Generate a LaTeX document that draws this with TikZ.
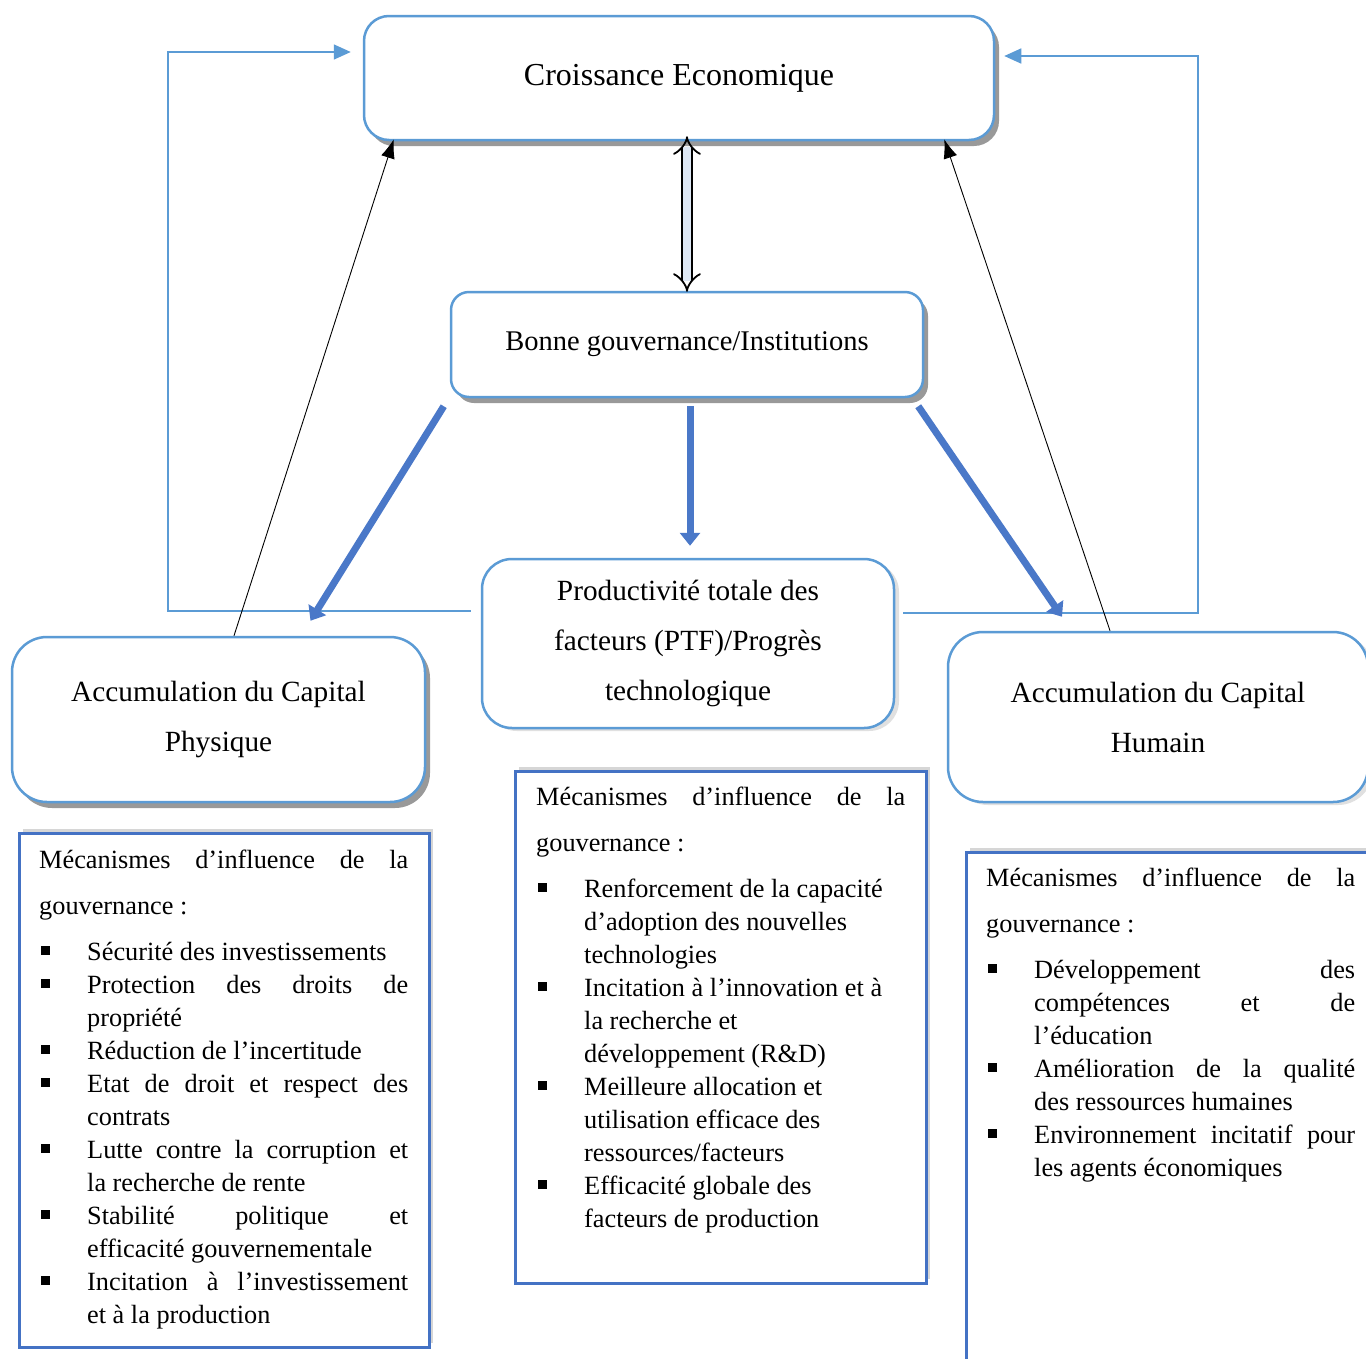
\documentclass[tikz,border=0pt]{standalone}
\usepackage{fontspec}
\setmainfont{Liberation Serif}
\usetikzlibrary{arrows.meta,shadows,calc}
\definecolor{bleuBord}{HTML}{5B9BD5}
\definecolor{bleuFonce}{HTML}{4472C4}
\definecolor{bleuFleche}{HTML}{4A78C8}
\definecolor{bleuPale}{HTML}{DEE8F5}

\newcommand{\Ligne}[1]{\makebox[\linewidth][s]{#1}}
\newcommand{\Entete}{{\fontsize{26.3}{46}\selectfont\noindent\Ligne{Mécanismes d’influence de la}\par\noindent gouvernance :\par}\vspace{13pt}}
\newenvironment{Puces}{\begin{list}{\raisebox{6pt}{\rule{8.5pt}{8.5pt}}}{\setlength{\leftmargin}{48pt}\setlength{\labelsep}{0pt}\setlength{\labelwidth}{48pt}\setlength{\itemsep}{0pt}\setlength{\parsep}{0pt}\setlength{\topsep}{0pt}\setlength{\partopsep}{0pt}\renewcommand{\makelabel}[1]{\hspace{2pt}##1\hfil}}}{\end{list}}

\begin{document}
\begin{tikzpicture}[x=1pt,y=-1pt]
    \tikzset{Boite/.style = {draw=bleuBord, line width=2.5pt, rounded corners=25pt, fill=white, align=center, font=\fontsize{29.3}{50}\selectfont}}
    \tikzset{Ombre/.style = {drop shadow={shadow xshift=5pt, shadow yshift=-6pt, fill=black!50, opacity=.8}}}
    \tikzset{OmbreLegere/.style = {drop shadow={shadow xshift=5pt, shadow yshift=-3pt, fill=black!30, opacity=.4}}}
    \tikzset{Cadre/.style = {draw=bleuFonce, line width=2.5pt, fill=white, anchor=north west, drop shadow={shadow xshift=4pt, shadow yshift=4pt, fill=black!40, opacity=.4}}}
    \tikzset{Texte/.style = {anchor=north west, inner sep=0pt, text width=369pt, align=justify, font=\fontsize{26.3}{33}\selectfont}}

    \tikzset{fleche/.style = {bleuFleche, line width=7pt, -{Triangle[length=13pt,width=20pt]}}}
    \tikzset{lien/.style = {black, line width=0.9pt, -{Latex[length=19pt,width=14pt]}}}
    \tikzset{retour/.style = {bleuBord, line width=1.6pt, -{Triangle[length=17pt,width=15pt]}}}
    \tikzset{bidir/.style = {black, line width=1.8pt, double=bleuPale, double distance=8pt, {Implies}-{Implies}}}

    \fill[white] (0,0) rectangle (1366,1358);
    \useasboundingbox (0,0) rectangle (1366,1358);

    \node[Boite, Ombre, minimum width=630pt, minimum height=124pt, font=\fontsize{32}{40}\selectfont] (croissance) at (679,78) {Croissance Economique};
    \node[Boite, Ombre, rounded corners=18pt, minimum width=472pt, minimum height=105pt, font=\fontsize{28.5}{34}\selectfont] (gouvernance) at (687,344.5) {Bonne gouvernance/Institutions};
    \node[Boite, OmbreLegere, rounded corners=30pt, minimum width=412pt, minimum height=169pt] (ptf) at (688,643.5) {Productivité totale des\\facteurs (PTF)/Progrès\\technologique};
    \node[Boite, Ombre, rounded corners=35pt, minimum width=413pt, minimum height=165pt] (physique) at (218.5,719.5) {Accumulation du Capital\\Physique};
    \node[Boite, OmbreLegere, rounded corners=35pt, minimum width=420pt, minimum height=170pt] (humain) at (1158,717) {Accumulation du Capital\\Humain};

    \node[Cadre, minimum width=410pt, minimum height=514pt] (cadreG) at (18,832) {};
    \node[Texte] (texteG) at (39,850) {\Entete
        \begin{Puces}
        \item Sécurité des investissements
        \item \Ligne{Protection des droits de}\\ propriété
        \item Réduction de l’incertitude
        \item \Ligne{Etat de droit et respect des}\\ contrats
        \item \Ligne{Lutte contre la corruption et}\\ la recherche de rente
        \item \Ligne{Stabilité politique et}\\ efficacité gouvernementale
        \item \Ligne{Incitation à l’investissement}\\ et à la production
        \end{Puces}};

    \node[Cadre, minimum width=411pt, minimum height=512pt] (cadreM) at (514,770) {};
    \node[Texte] (texteM) at (536,787) {\Entete
        \begin{Puces}
        \item Renforcement de la capacité\\ d’adoption des nouvelles\\ technologies
        \item Incitation à l’innovation et à\\ la recherche et\\ développement (R\&D)
        \item Meilleure allocation et\\ utilisation efficace des\\ ressources/facteurs
        \item Efficacité globale des\\ facteurs de production
        \end{Puces}};

    \node[Cadre, minimum width=430pt, minimum height=560pt] (cadreD) at (965,851) {};
    \node[Texte] (texteD) at (986,868) {\Entete
        \begin{Puces}
        \item \Ligne{Développement des}\\ \Ligne{compétences et de}\\ l’éducation
        \item \Ligne{Amélioration de la qualité}\\ des ressources humaines
        \item \Ligne{Environnement incitatif pour}\\ les agents économiques
        \end{Puces}};

    \draw[retour] ([shift={(-10,-32.5)}]ptf.west) -- ++(-303,0) |- ([shift={(-12,-26)}]croissance.west);
    \draw[retour] ([shift={(8,-30.5)}]ptf.east) -- ++(295,0) |- ([shift={(9,-22)}]croissance.east);

    \draw[bidir, shorten <=-5pt, shorten >=-1pt] (croissance.south -| gouvernance.north) -- (gouvernance.north);

    \draw[fleche] ([shift={(-6,8)}]gouvernance.south west) -- ([shift={(92,-15)}]physique.north);
    \draw[fleche] ([shift={(3,8)}]gouvernance.south) -- ([shift={(2,-12)}]ptf.north);
    \draw[fleche] ([shift={(-6,8)}]gouvernance.south east) -- ([shift={(-96,-14)}]humain.north);

    \draw[lien] ([xshift=15.5pt]physique.north) -- ([shift={(31,-2)}]croissance.south west);
    \draw[lien] ([xshift=-48pt]humain.north) -- ([shift={(-51,-2)}]croissance.south east);
\end{tikzpicture}
\end{document}
